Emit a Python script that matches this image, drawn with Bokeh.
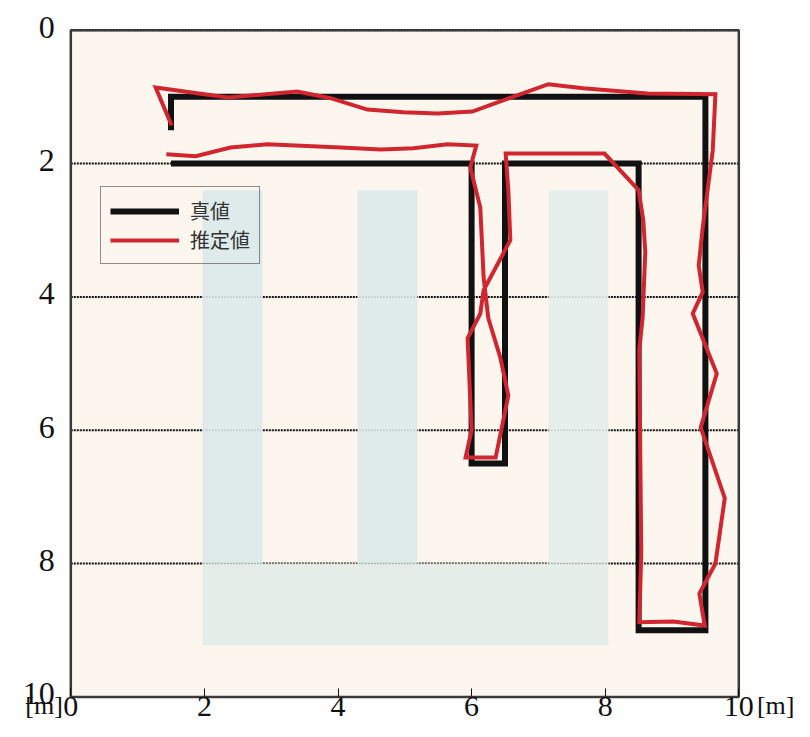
from bokeh.plotting import figure
from bokeh.models import Range1d, FixedTicker, Label, Legend, LegendItem
from bokeh.embed import file_html
from bokeh.resources import INLINE

# ---- data ----
true_x = [1.5, 1.5, 9.5, 9.5, 8.5, 8.5, 6.5, 6.5, 6.0, 6.0, 1.5]
true_y = [1.5, 1.0, 1.0, 9.0, 9.0, 2.0, 2.0, 6.5, 6.5, 2.0, 2.0]

est_x = [1.51, 1.27, 2.35, 3.39, 3.89, 4.44, 4.98, 5.49, 6.01, 7.15, 7.67, 8.63, 9.65,
         9.61, 9.46, 9.40, 9.46, 9.31, 9.67, 9.43, 9.79, 9.65, 9.41, 9.49, 9.02, 8.51,
         8.54, 8.51, 8.56, 8.60, 8.57, 8.50, 7.99, 6.51, 6.55, 6.58, 6.18, 6.13, 5.94,
         6.00, 5.91, 6.36, 6.55, 6.43, 6.25, 6.18, 6.13, 5.98, 6.07, 5.64, 5.13, 4.64,
         4.04, 2.94, 2.39, 1.87, 1.43]
est_y = [1.43, 0.86, 1.01, 0.92, 1.02, 1.19, 1.23, 1.25, 1.22, 0.81, 0.87, 0.95, 0.96,
         1.80, 2.96, 3.53, 3.93, 4.25, 5.15, 5.96, 7.02, 8.00, 8.45, 8.93, 8.87, 8.88,
         7.85, 4.80, 4.31, 3.33, 2.85, 2.40, 1.85, 1.85, 2.40, 3.15, 3.90, 4.25, 4.62,
         6.00, 6.41, 6.41, 5.48, 4.91, 4.32, 3.71, 2.66, 2.06, 1.73, 1.71, 1.77, 1.79,
         1.76, 1.71, 1.76, 1.89, 1.86]

shelf_left = [1.97, 4.29, 7.15, 1.97]
shelf_right = [2.87, 5.19, 8.05, 8.05]
shelf_top = [2.40, 2.40, 2.40, 8.00]
shelf_bottom = [8.00, 8.00, 8.00, 9.23]

x_ticks = [0, 2, 4, 6, 8, 10]
y_ticks = [0, 2, 4, 6, 8, 10]
grid_y = [0, 2, 4, 6, 8, 10]
unit_label = "[m]"
legend_labels = ["真値", "推定値"]

# ---- layout / styles ----
W, H = 794, 721
X0, SX = 70.3, 66.8      # pixel of x=0, pixels per unit
Y0, SY = 29.7, 66.67     # pixel of y=0, pixels per unit
LABEL_RAISE = 3.0        # y tick labels sit slightly above their grid lines
SERIF = "Liberation Serif"
CJK = "Noto Sans CJK JP"
shelf_colors = ["#dceae9", "#dceae9", "#e4eeec", "#e2ece8"]
xmin, xmax = x_ticks[0], x_ticks[-1]
ymin, ymax = y_ticks[0], y_ticks[-1]

y_start, y_end = (H - Y0) / SY, -Y0 / SY
p = figure(width=W, height=H,
           x_range=Range1d(-X0 / SX, (W - X0) / SX),
           y_range=Range1d(y_start, y_end),
           output_backend="svg", toolbar_location=None, min_border=0)
d = LABEL_RAISE / SY
p.extra_y_ranges = {"ylab": Range1d(y_start + d, y_end + d)}
p.title.visible = False
p.background_fill_color = "white"
p.border_fill_color = "white"
p.outline_line_color = None
p.xgrid.visible = False
p.ygrid.visible = False

# axes pinned to the chart box
p.xaxis.fixed_location = ymax
p.xaxis.ticker = FixedTicker(ticks=x_ticks)
p.xaxis.major_label_text_font = SERIF
p.xaxis.major_label_text_font_size = "30px"
p.xaxis.major_label_text_color = "#111111"
p.xaxis.major_label_standoff = 0
p.xaxis.major_tick_in = 8
p.xaxis.major_tick_out = 0
p.xaxis.major_tick_line_color = "#111111"
p.xaxis.minor_tick_line_color = None
p.xaxis.axis_line_color = None

p.yaxis.y_range_name = "ylab"
p.yaxis.fixed_location = xmin
p.yaxis.ticker = FixedTicker(ticks=y_ticks)
p.yaxis.major_label_text_font = SERIF
p.yaxis.major_label_text_font_size = "32px"
p.yaxis.major_label_text_color = "#111111"
p.yaxis.major_label_standoff = 16
p.yaxis.major_tick_line_color = None
p.yaxis.major_tick_in = 0
p.yaxis.major_tick_out = 0
p.yaxis.minor_tick_line_color = None
p.yaxis.axis_line_color = None

# chart area background
p.quad(left=[xmin], right=[xmax], top=[ymin], bottom=[ymax],
       fill_color="#fdf6ef", line_color=None)

# dotted horizontal grid lines
p.segment(x0=[xmin] * len(grid_y), x1=[xmax] * len(grid_y), y0=grid_y, y1=grid_y,
          line_color="#111111", line_width=2, line_dash="2 1")

# shelves
p.quad(left=shelf_left, right=shelf_right, top=shelf_top, bottom=shelf_bottom,
       fill_color=shelf_colors, fill_alpha=0.9, line_color=None)

# paths
r_true = p.line(true_x, true_y, line_color="#111111", line_width=6,
                line_join="miter", line_cap="butt")
r_est = p.line(est_x, est_y, line_color="#d12630", line_width=4, line_join="miter")

# chart border
p.quad(left=[xmin], right=[xmax], top=[ymin], bottom=[ymax],
       fill_alpha=0, line_color="#3a3a3a", line_width=2.5)

legend = Legend(items=[LegendItem(label=legend_labels[0], renderers=[r_true]),
                       LegendItem(label=legend_labels[1], renderers=[r_est])],
                location=(100, 457))
legend.margin = 0
legend.padding = 9
legend.spacing = 0
legend.glyph_width = 69
legend.glyph_height = 20
legend.label_height = 20
legend.label_standoff = 11
legend.label_text_font = CJK
legend.label_text_font_size = "20px"
legend.label_text_color = "#333333"
legend.border_line_color = "#222222"
legend.border_line_width = 1.5
legend.background_fill_alpha = 0
p.add_layout(legend)

# unit labels beside the x tick labels (same row as the tick labels)
y_unit = ymax - 5.5 / SY
p.add_layout(Label(x=xmin, y=y_unit, x_offset=-8, text=unit_label,
                   text_align="right", text_baseline="top", text_font=SERIF,
                   text_font_size="26px", text_color="#111111"))
p.add_layout(Label(x=(W - X0) / SX, y=y_unit, text=unit_label,
                   text_align="right", text_baseline="top", text_font=SERIF,
                   text_font_size="26px", text_color="#111111"))

open("out.html", "w").write(file_html(p, INLINE))
